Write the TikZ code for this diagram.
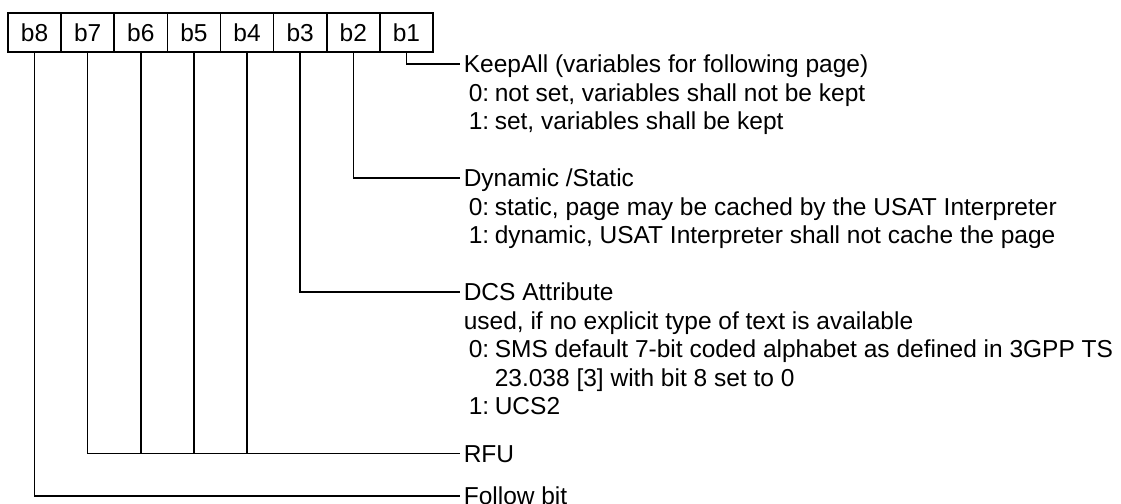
\documentclass[tikz,border=0pt]{standalone}
\usepackage{fontspec}
\setmainfont{Liberation Sans}
\usepackage{tikz}
\usetikzlibrary{positioning}

\tikzset{
  bitcell/.style={draw, minimum width=53.125pt, minimum height=39pt, inner sep=0pt},
  head/.style={anchor=west, inner xsep=3pt, inner ysep=0pt, text height=17.5pt, text depth=0pt},
  opts/.style={anchor=base west, inner sep=0pt}
}
\newcommand{\optrows}[1]{\begin{tabular}[t]{@{\hspace{5pt}}p{26pt}@{}l@{}}#1\end{tabular}}

\begin{document}
\begin{tikzpicture}[x=1pt, y=-1pt, line width=1.6pt, font=\fontsize{24.5}{28.5}\selectfont]
\useasboundingbox (0,0) rectangle (1121,503);
\foreach \x in {1,...,8}
  \node[bitcell] (c\x) at ({433-53.125*(\x-0.5)}, 32.5) {b\x};

\node[head] (keep) at (460,64) {KeepAll (variables for following page)};
\node[opts] (keepopt) at ([xshift=3pt,yshift=-28.5pt]keep.base west)
  {\optrows{0: & not set, variables shall not be kept\\
            1: & set, variables shall be kept}};

\node[head] (dyn) at (460,178) {Dynamic /Static};
\node[opts] (dynopt) at ([xshift=3pt,yshift=-28.5pt]dyn.base west)
  {\optrows{0: & static, page may be cached by the USAT Interpreter\\
            1: & dynamic, USAT Interpreter shall not cache the page}};

\node[head] (dcs) at (460,292) {DCS Attribute};
\node[opts] (dcsopt) at ([xshift=3pt,yshift=-28.5pt]dcs.base west)
  {\optrows{\multicolumn{2}{@{}l@{}}{used, if no explicit type of text is available}\\
            0: & SMS default 7-bit coded alphabet as defined in 3GPP TS\\
               & 23.038 [3] with bit 8 set to 0\\
            1: & UCS2}};

\node[head] (rfu) at (460,453.5) {RFU};
\node[head] (follow) at (460,496) {Follow bit};

\draw (c1.south) |- (keep.west);
\draw (c2.south) |- (dyn.west);
\draw (c3.south) |- (dcs.west);
\draw (c7.south) |- (rfu.west);
\foreach \x in {4,5,6}
  \draw (c\x.south) -- (c\x.south |- rfu.west);
\draw (c8.south) |- (follow.west);
\end{tikzpicture}
\end{document}
